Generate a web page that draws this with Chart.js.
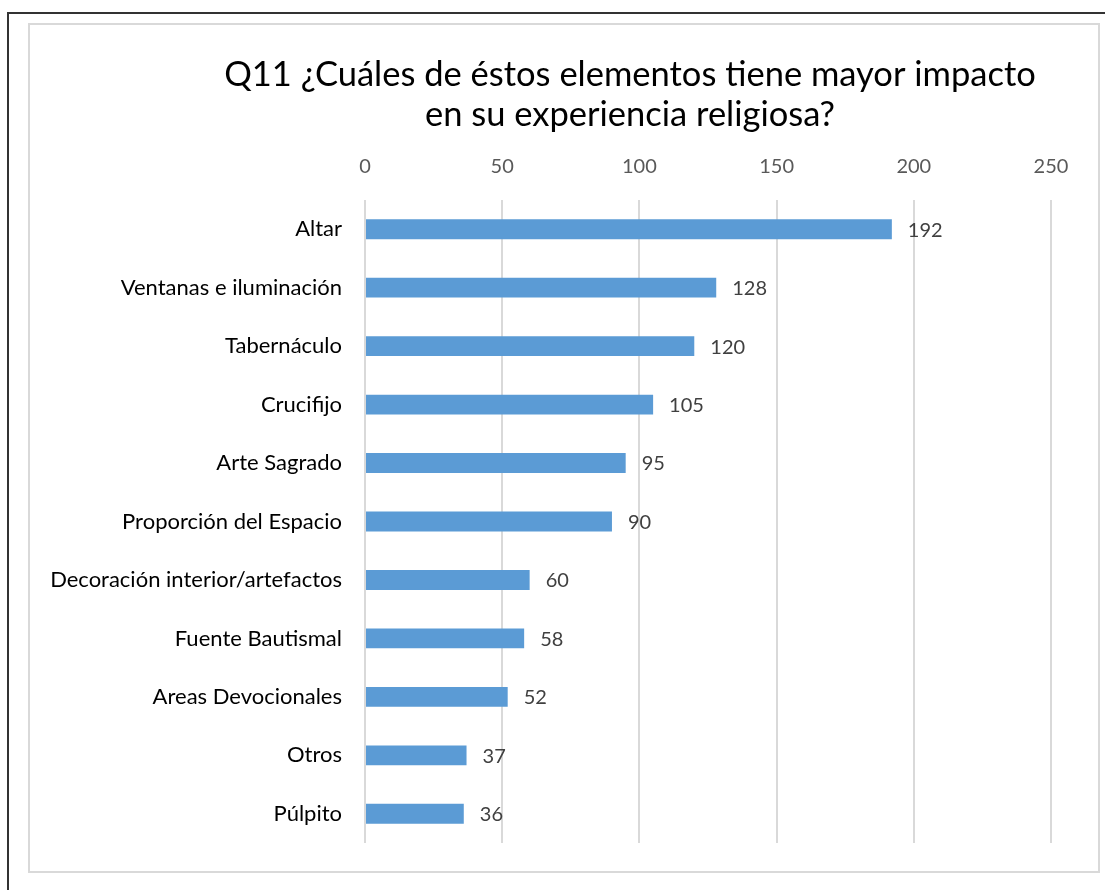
<!DOCTYPE html>
<html>
<head>
<meta charset="utf-8">
<script src="https://cdn.jsdelivr.net/npm/chart.js@4.4.0/dist/chart.umd.min.js"></script>
<style>
  html, body { margin: 0; padding: 0; background: #fff; }
  #wrap { width: 1105px; height: 890px; position: relative; }
</style>
</head>
<body>
<div id="wrap"><canvas id="c" width="1105" height="890"></canvas></div>
<script>
const categories = ["Altar", "Ventanas e iluminación", "Tabernáculo", "Crucifijo", "Arte Sagrado",
  "Proporción del Espacio", "Decoración interior/artefactos", "Fuente Bautismal",
  "Areas Devocionales", "Otros", "Púlpito"];
const values = [192, 128, 120, 105, 95, 90, 60, 58, 52, 37, 36];
const xTicks = [0, 50, 100, 150, 200, 250];
const titleLines = ["Q11 ¿Cuáles de éstos elementos tiene mayor impacto", "en su experiencia religiosa?"];

const FONT = "Lato, 'Liberation Sans', sans-serif";

const framePlugin = {
  id: 'frame',
  beforeDraw(chart) {
    const ctx = chart.ctx;
    ctx.save();
    ctx.fillStyle = '#fff';
    ctx.fillRect(0, 0, chart.width, chart.height);
    ctx.strokeStyle = '#333';
    ctx.lineWidth = 2;
    ctx.beginPath();
    ctx.moveTo(8, chart.height);
    ctx.lineTo(8, 13);
    ctx.lineTo(chart.width, 13);
    ctx.stroke();
    ctx.strokeStyle = '#D9D9D9';
    ctx.lineWidth = 2;
    ctx.strokeRect(29, 24, 1070, 848);
    ctx.restore();
  },
  afterDraw(chart) {
    const ctx = chart.ctx;
    ctx.save();
    ctx.fillStyle = '#000';
    ctx.font = "34.5px " + FONT;
    ctx.textAlign = 'center';
    ctx.textBaseline = 'middle';
    ctx.fillText(titleLines[0], 630, 75);
    ctx.fillText(titleLines[1], 630, 115);
    // data labels
    ctx.fillStyle = '#404040';
    ctx.font = "20px " + FONT;
    ctx.textAlign = 'left';
    const meta = chart.getDatasetMeta(0);
    meta.data.forEach((bar, i) => {
      ctx.fillText(String(values[i]), bar.x + 16, bar.y + 1);
    });
    ctx.restore();
  }
};

new Chart(document.getElementById('c'), {
  type: 'bar',
  data: {
    labels: categories,
    datasets: [{
      data: values,
      backgroundColor: '#5B9BD5',
      borderWidth: 0,
      categoryPercentage: 1,
      barPercentage: 0.34
    }]
  },
  options: {
    indexAxis: 'y',
    responsive: false,
    animation: false,
    layout: { padding: { left: 30, right: 54, top: 140, bottom: 47 } },
    plugins: { legend: { display: false }, tooltip: { enabled: false }, title: { display: false } },
    scales: {
      x: {
        position: 'top',
        min: 0, max: 250,
        afterBuildTicks(scale) { scale.ticks = xTicks.map(v => ({ value: v })); },
        afterFit(scale) { scale.height = 60; },
        grid: { color: '#D9D9D9', lineWidth: 2, drawTicks: false },
        border: { display: false },
        ticks: { color: '#595959', font: { family: FONT, size: 20 }, padding: 21 }
      },
      y: {
        afterFit(scale) { scale.width = 335; },
        grid: { display: false, drawTicks: false },
        border: { display: false },
        ticks: { color: '#000', font: { family: FONT, size: 22 }, padding: 23 }
      }
    }
  },
  plugins: [framePlugin]
});
</script>
</body>
</html>
